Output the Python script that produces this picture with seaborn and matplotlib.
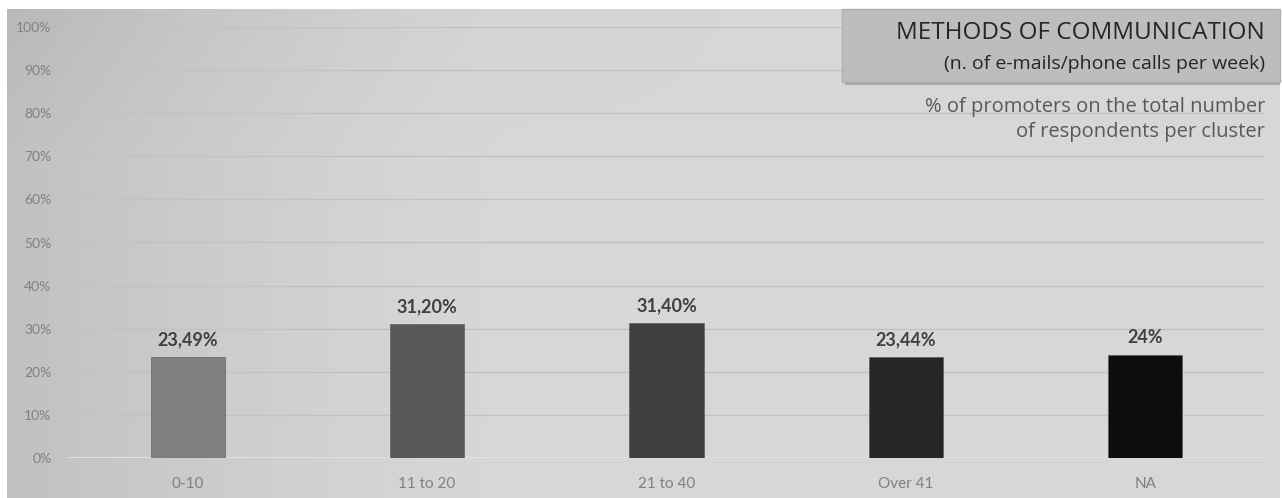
import numpy as np
import pandas as pd
import matplotlib
matplotlib.use("Agg")
import matplotlib.pyplot as plt
from matplotlib.patches import Rectangle
import seaborn as sns

categories = ["0-10", "11 to 20", "21 to 40", "Over 41", "NA"]
values = [23.49, 31.20, 31.40, 23.44, 24.0]
value_labels = ["23,49%", "31,20%", "31,40%", "23,44%", "24%"]
bar_colors = ["#7f7f7f", "#595959", "#404040", "#262626", "#0d0d0d"]
ytick_values = [0, 10, 20, 30, 40, 50, 60, 70, 80, 90, 100]
title = "METHODS OF COMMUNICATION"
subtitle = "(n. of e-mails/phone calls per week)"
note_lines = ["% of promoters on the total number", "of respondents per cluster"]

sns.set_theme(style="white")
plt.rcParams["font.family"] = ["Lato", "DejaVu Sans"]

W, H = 1282, 498
fig = plt.figure(figsize=(W / 100, H / 100), dpi=100)
fig.patch.set_facecolor("white")

# background panel with gradient
bg = fig.add_axes([7 / W, 0, (1280 - 7) / W, (H - 9) / H])
bg.set_axis_off()
xx = np.linspace(0, 1, 400)
yy = np.linspace(0, 1, 200)
X, Y = np.meshgrid(xx, yy)
g = 0.845 - 0.09 * np.clip(1 - X / 0.4, 0, 1) ** 1.4 - 0.03 * np.clip(1 - Y / 0.3, 0, 1) * np.clip(1 - X / 0.6, 0, 1)
img = np.dstack([g, g, g])
bg.imshow(img, aspect="auto", extent=[0, 1, 0, 1], origin="upper")
bg.set_xlim(0, 1)
bg.set_ylim(0, 1)

ax = fig.add_axes([68 / W, (H - 458) / H, (1265 - 68) / W, (458 - 27) / H])
ax.patch.set_alpha(0)

df = pd.DataFrame({"cat": categories, "val": values})
sns.barplot(data=df, x="cat", y="val", hue="cat", palette=bar_colors,
            order=categories, hue_order=categories, legend=False,
            width=0.31, ax=ax, zorder=3, saturation=1,
            edgecolor="#555555", linewidth=0.4)

ax.set_ylim(0, 100)
ax.set_xlim(-0.5, 4.5)
ax.set_yticks(ytick_values)
ax.set_yticklabels([f"{v}%" for v in ytick_values])
ax.grid(axis="y", color="#c2c2c2", linewidth=1.0, zorder=0)
ax.set_axisbelow(True)
for s in ax.spines.values():
    s.set_visible(False)
ax.axhline(0, color="#e6e6e6", linewidth=1.2, zorder=2)
ax.set_xlabel("")
ax.set_ylabel("")
ax.tick_params(axis="y", labelsize=10, labelcolor="#808080", length=0, pad=12)
ax.tick_params(axis="x", labelsize=11, labelcolor="#808080", length=0, pad=14)

for i, (v, lab) in enumerate(zip(values, value_labels)):
    ax.annotate(lab, (i, v), xytext=(0, 6), textcoords="offset points",
                ha="center", va="bottom", fontsize=13, fontweight="bold",
                color="#404040")

# title box
shadow = Rectangle((845 / W, (H - 85) / H), (1280 - 845) / W, (85 - 9) / H,
                   transform=fig.transFigure, facecolor="#a8a8a8", edgecolor="none", zorder=5)
fig.patches.append(shadow)
box = Rectangle((842 / W, (H - 82) / H), (1280 - 842) / W, (82 - 9) / H,
                transform=fig.transFigure, facecolor="#bdbdbd", edgecolor="#b0b0b0", zorder=6)
fig.patches.append(box)
hdr = ["Open Sans", "DejaVu Sans"]
fig.text(1265 / W, 1 - 33 / H, title, ha="right", va="center", fontsize=17.5,
         color="#262626", zorder=7, family=hdr)
fig.text(1265 / W, 1 - 64 / H, subtitle, ha="right", va="center", fontsize=14,
         color="#262626", zorder=7, family=hdr)
fig.text(1265 / W, 1 - 107 / H, note_lines[0], ha="right", va="center", fontsize=14.5,
         color="#595959", zorder=7, family=hdr)
fig.text(1265 / W, 1 - 132 / H, note_lines[1], ha="right", va="center", fontsize=14.5,
         color="#595959", zorder=7, family=hdr)

fig.savefig("out.png", dpi=100)
